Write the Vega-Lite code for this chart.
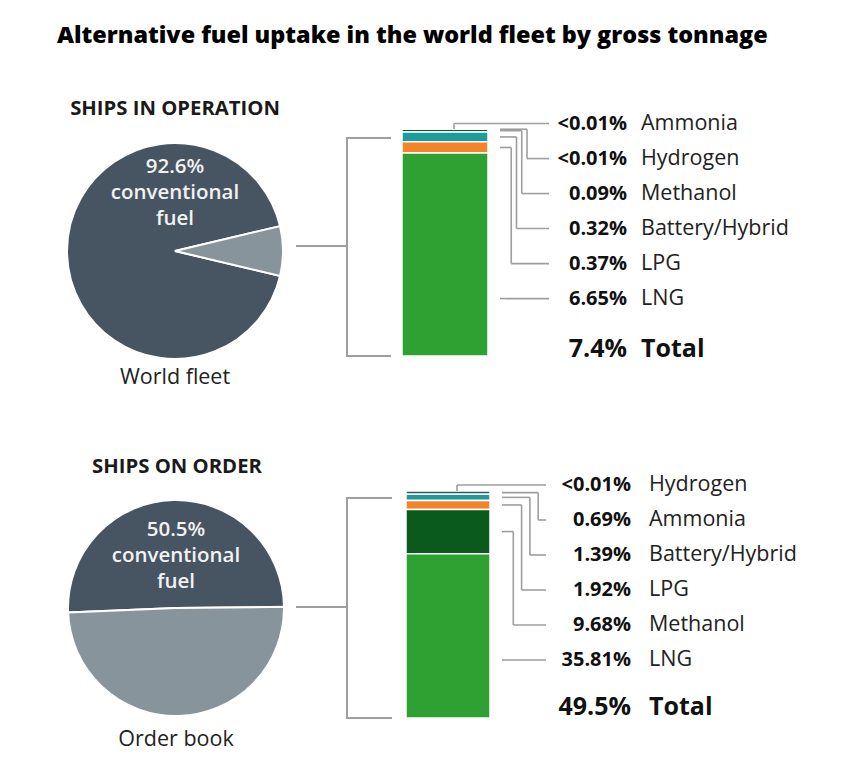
{
  "$schema": "https://vega.github.io/schema/vega-lite/v6.json",
  "background": "white",
  "padding": {"left": 0, "top": 23, "right": 0, "bottom": 0},
  "title": {"text": "Alternative fuel uptake in the world fleet by gross tonnage", "anchor": "start", "frame": "group", "dx": 57, "offset": 33, "font": "Open Sans", "fontSize": 23.4, "fontWeight": 800, "color": "#000000"},
  "config": {"axis": {"disable": true}, "legend": {"disable": true}, "view": {"stroke": null}, "text": {"font": "Open Sans"}},
  "datasets": {
    "fuels": [
      {"panel": "op", "fuel": "Ammonia", "pct": 0.005, "pct_label": "<0.01%", "rank": 5},
      {"panel": "op", "fuel": "Hydrogen", "pct": 0.005, "pct_label": "<0.01%", "rank": 4},
      {"panel": "op", "fuel": "Methanol", "pct": 0.09, "pct_label": "0.09%", "rank": 3},
      {"panel": "op", "fuel": "Battery/Hybrid", "pct": 0.32, "pct_label": "0.32%", "rank": 2},
      {"panel": "op", "fuel": "LPG", "pct": 0.37, "pct_label": "0.37%", "rank": 1},
      {"panel": "op", "fuel": "LNG", "pct": 6.65, "pct_label": "6.65%", "rank": 0},
      {"panel": "order", "fuel": "Hydrogen", "pct": 0.005, "pct_label": "<0.01%", "rank": 5},
      {"panel": "order", "fuel": "Ammonia", "pct": 0.69, "pct_label": "0.69%", "rank": 4},
      {"panel": "order", "fuel": "Battery/Hybrid", "pct": 1.39, "pct_label": "1.39%", "rank": 3},
      {"panel": "order", "fuel": "LPG", "pct": 1.92, "pct_label": "1.92%", "rank": 2},
      {"panel": "order", "fuel": "Methanol", "pct": 9.68, "pct_label": "9.68%", "rank": 1},
      {"panel": "order", "fuel": "LNG", "pct": 35.81, "pct_label": "35.81%", "rank": 0}
    ],
    "pies": [
      {"panel": "op", "section": "SHIPS IN OPERATION", "fleet": "World fleet", "part": "conventional", "share": 92.6, "label": "92.6% conventional fuel"},
      {"panel": "op", "section": "SHIPS IN OPERATION", "fleet": "World fleet", "part": "alternative", "share": 7.4, "label": "7.4%"},
      {"panel": "order", "section": "SHIPS ON ORDER", "fleet": "Order book", "part": "conventional", "share": 50.5, "label": "50.5% conventional fuel"},
      {"panel": "order", "section": "SHIPS ON ORDER", "fleet": "Order book", "part": "alternative", "share": 49.5, "label": "49.5%"}
    ]
  },
  "resolve": {"scale": {"theta": "independent"}},
  "spacing": 42,
  "vconcat": [
    {
      "width": 868, "height": 320,
      "layer": [
        {
          "data": {"name": "pies"},
          "transform": [{"filter": "datum.panel === 'op' && datum.part === 'conventional'"}],
          "mark": {"type": "text", "fontSize": 20.3, "fontWeight": 700, "color": "#1a1a1a", "align": "center", "baseline": "middle"},
          "encoding": {
            "x": {"datum": 175, "type": "quantitative", "scale": {"domain": [0, 868], "nice": false, "zero": false}},
            "y": {"datum": 1.088, "type": "quantitative", "scale": {"domain": [-0.1982, 1.2115], "nice": false, "zero": false}},
            "text": {"field": "section"}
          }
        },
        {
          "data": {"name": "pies"},
          "transform": [{"filter": "datum.panel === 'op'"}],
          "mark": {"type": "arc", "outerRadius": 108, "stroke": "white", "strokeWidth": 2},
          "encoding": {
            "x": {"datum": 175, "type": "quantitative"},
            "y": {"datum": 0.4626, "type": "quantitative"},
            "theta": {"field": "share", "type": "quantitative", "stack": true, "scale": {"range": [1.3386, 7.6218]}},
            "order": {"field": "part", "type": "ordinal"},
            "color": {"field": "part", "type": "nominal", "scale": {"domain": ["conventional", "alternative", "LNG", "Methanol", "LPG", "Battery/Hybrid", "Ammonia", "Hydrogen"], "range": ["#475563", "#88949c", "#2fa133", "#0b5a1d", "#f5832b", "#1b9c9e", "#2d5a5e", "#e6d7d7"]}}
          }
        },
        {
          "data": {"name": "pies"},
          "transform": [{"filter": "datum.panel === 'op' && datum.part === 'conventional'"}],
          "mark": {"type": "text", "fontSize": 20.5, "fontWeight": 600, "color": "#f2f2f2", "align": "center", "baseline": "middle", "lineBreak": " ", "lineHeight": 26},
          "encoding": {
            "x": {"datum": 175, "type": "quantitative"},
            "y": {"datum": 0.8326, "type": "quantitative"},
            "text": {"field": "label"}
          }
        },
        {
          "data": {"name": "pies"},
          "transform": [{"filter": "datum.panel === 'op' && datum.part === 'conventional'"}],
          "mark": {"type": "text", "fontSize": 21.5, "fontWeight": 400, "color": "#222222", "align": "center", "baseline": "middle"},
          "encoding": {
            "x": {"datum": 175, "type": "quantitative"},
            "y": {"datum": -0.097, "type": "quantitative"},
            "text": {"field": "fleet"}
          }
        },
        {
          "data": {"name": "pies"},
          "transform": [{"filter": "datum.panel === 'op' && datum.part === 'alternative'"}],
          "layer": [
            {"mark": {"type": "rule", "color": "#9e9e9e", "strokeWidth": 2}, "encoding": {"x": {"datum": 296, "type": "quantitative"}, "x2": {"datum": 347}, "y": {"datum": 0.4846, "type": "quantitative"}}},
            {"mark": {"type": "rule", "color": "#9e9e9e", "strokeWidth": 2}, "encoding": {"x": {"datum": 347, "type": "quantitative"}, "y": {"datum": 0, "type": "quantitative"}, "y2": {"datum": 0.96}}},
            {"mark": {"type": "rule", "color": "#9e9e9e", "strokeWidth": 2}, "encoding": {"x": {"datum": 346, "type": "quantitative"}, "x2": {"datum": 391}, "y": {"datum": 0.96, "type": "quantitative"}}},
            {"mark": {"type": "rule", "color": "#9e9e9e", "strokeWidth": 2}, "encoding": {"x": {"datum": 346, "type": "quantitative"}, "x2": {"datum": 391}, "y": {"datum": 0, "type": "quantitative"}}},
            {"mark": {"type": "text", "fontSize": 25, "fontWeight": 700, "color": "#111111", "align": "right", "baseline": "middle"}, "encoding": {"x": {"datum": 627, "type": "quantitative"}, "y": {"datum": 0.031, "type": "quantitative"}, "text": {"field": "label"}}},
            {"mark": {"type": "text", "fontSize": 25, "fontWeight": 700, "color": "#111111", "align": "left", "baseline": "middle"}, "encoding": {"x": {"datum": 641, "type": "quantitative"}, "y": {"datum": 0.031, "type": "quantitative"}, "text": {"value": "Total"}}}
          ]
        },
        {
          "data": {"name": "fuels"},
          "transform": [
            {"filter": "datum.panel === 'op'"},
            {"stack": "pct", "groupby": [], "sort": [{"field": "rank", "order": "ascending"}], "offset": "normalize", "as": ["y0", "y1"]},
            {"calculate": "0.253 + 0.1542 * datum.rank", "as": "slot"},
            {"calculate": "datum.slot >= datum.y0 && datum.slot <= datum.y1 ? datum.slot : (datum.y0 + datum.y1) / 2", "as": "stub"},
            {"calculate": "datum.rank === 5 ? 454 : 506 + 5.25 * datum.rank", "as": "ex"},
            {"calculate": "datum.rank === 5 ? 454 : 500", "as": "sx"}
          ],
          "layer": [
            {"mark": {"type": "rect", "stroke": "white", "strokeWidth": 1.5}, "encoding": {"x": {"datum": 402, "type": "quantitative"}, "x2": {"datum": 488}, "y": {"field": "y0", "type": "quantitative"}, "y2": {"field": "y1"}, "color": {"field": "fuel", "type": "nominal"}}},
            {"mark": {"type": "rule", "color": "#9e9e9e", "strokeWidth": 1.6}, "encoding": {"x": {"field": "sx", "type": "quantitative"}, "x2": {"field": "ex"}, "y": {"field": "stub", "type": "quantitative"}}},
            {"mark": {"type": "rule", "color": "#9e9e9e", "strokeWidth": 1.6}, "encoding": {"x": {"field": "ex", "type": "quantitative"}, "y": {"field": "stub", "type": "quantitative"}, "y2": {"field": "slot"}}},
            {"mark": {"type": "rule", "color": "#9e9e9e", "strokeWidth": 1.6}, "encoding": {"x": {"field": "ex", "type": "quantitative"}, "x2": {"datum": 549}, "y": {"field": "slot", "type": "quantitative"}}},
            {"mark": {"type": "text", "fontSize": 20, "fontWeight": 700, "color": "#111111", "align": "right", "baseline": "middle"}, "encoding": {"x": {"datum": 627, "type": "quantitative"}, "y": {"field": "slot", "type": "quantitative"}, "text": {"field": "pct_label"}}},
            {"mark": {"type": "text", "fontSize": 21.5, "fontWeight": 400, "color": "#222222", "align": "left", "baseline": "middle"}, "encoding": {"x": {"datum": 641, "type": "quantitative"}, "y": {"field": "slot", "type": "quantitative"}, "text": {"field": "fuel"}}}
          ]
        }
      ]
    },
    {
      "width": 868, "height": 320,
      "layer": [
        {
          "data": {"name": "pies"},
          "transform": [{"filter": "datum.panel === 'order' && datum.part === 'conventional'"}],
          "mark": {"type": "text", "fontSize": 20.3, "fontWeight": 700, "color": "#1a1a1a", "align": "center", "baseline": "middle"},
          "encoding": {
            "x": {"datum": 177, "type": "quantitative", "scale": {"domain": [0, 868], "nice": false, "zero": false}},
            "y": {"datum": 1.106, "type": "quantitative", "scale": {"domain": [-0.1982, 1.2115], "nice": false, "zero": false}},
            "text": {"field": "section"}
          }
        },
        {
          "data": {"name": "pies"},
          "transform": [{"filter": "datum.panel === 'order'"}],
          "mark": {"type": "arc", "outerRadius": 108, "stroke": "white", "strokeWidth": 2},
          "encoding": {
            "x": {"datum": 176, "type": "quantitative"},
            "y": {"datum": 0.4846, "type": "quantitative"},
            "theta": {"field": "share", "type": "quantitative", "stack": true, "scale": {"range": [1.56, 7.8432]}},
            "order": {"field": "part", "type": "ordinal"},
            "color": {"field": "part", "type": "nominal", "scale": {"domain": ["conventional", "alternative", "LNG", "Methanol", "LPG", "Battery/Hybrid", "Ammonia", "Hydrogen"], "range": ["#475563", "#88949c", "#2fa133", "#0b5a1d", "#f5832b", "#1b9c9e", "#2d5a5e", "#e6d7d7"]}}
          }
        },
        {
          "data": {"name": "pies"},
          "transform": [{"filter": "datum.panel === 'order' && datum.part === 'conventional'"}],
          "mark": {"type": "text", "fontSize": 20.5, "fontWeight": 600, "color": "#f2f2f2", "align": "center", "baseline": "middle", "lineBreak": " ", "lineHeight": 26},
          "encoding": {
            "x": {"datum": 176, "type": "quantitative"},
            "y": {"datum": 0.828, "type": "quantitative"},
            "text": {"field": "label"}
          }
        },
        {
          "data": {"name": "pies"},
          "transform": [{"filter": "datum.panel === 'order' && datum.part === 'conventional'"}],
          "mark": {"type": "text", "fontSize": 21.5, "fontWeight": 400, "color": "#222222", "align": "center", "baseline": "middle"},
          "encoding": {
            "x": {"datum": 176, "type": "quantitative"},
            "y": {"datum": -0.097, "type": "quantitative"},
            "text": {"field": "fleet"}
          }
        },
        {
          "data": {"name": "pies"},
          "transform": [{"filter": "datum.panel === 'order' && datum.part === 'alternative'"}],
          "layer": [
            {"mark": {"type": "rule", "color": "#9e9e9e", "strokeWidth": 2}, "encoding": {"x": {"datum": 296, "type": "quantitative"}, "x2": {"datum": 347}, "y": {"datum": 0.489, "type": "quantitative"}}},
            {"mark": {"type": "rule", "color": "#9e9e9e", "strokeWidth": 2}, "encoding": {"x": {"datum": 347, "type": "quantitative"}, "y": {"datum": 0, "type": "quantitative"}, "y2": {"datum": 0.969}}},
            {"mark": {"type": "rule", "color": "#9e9e9e", "strokeWidth": 2}, "encoding": {"x": {"datum": 346, "type": "quantitative"}, "x2": {"datum": 392}, "y": {"datum": 0.969, "type": "quantitative"}}},
            {"mark": {"type": "rule", "color": "#9e9e9e", "strokeWidth": 2}, "encoding": {"x": {"datum": 346, "type": "quantitative"}, "x2": {"datum": 392}, "y": {"datum": 0, "type": "quantitative"}}},
            {"mark": {"type": "text", "fontSize": 25, "fontWeight": 700, "color": "#111111", "align": "right", "baseline": "middle"}, "encoding": {"x": {"datum": 631, "type": "quantitative"}, "y": {"datum": 0.048, "type": "quantitative"}, "text": {"field": "label"}}},
            {"mark": {"type": "text", "fontSize": 25, "fontWeight": 700, "color": "#111111", "align": "left", "baseline": "middle"}, "encoding": {"x": {"datum": 649, "type": "quantitative"}, "y": {"datum": 0.048, "type": "quantitative"}, "text": {"value": "Total"}}}
          ]
        },
        {
          "data": {"name": "fuels"},
          "transform": [
            {"filter": "datum.panel === 'order'"},
            {"stack": "pct", "groupby": [], "sort": [{"field": "rank", "order": "ascending"}], "offset": "normalize", "as": ["y0", "y1"]},
            {"calculate": "0.2555 + 0.1542 * datum.rank", "as": "slot"},
            {"calculate": "datum.slot >= datum.y0 && datum.slot <= datum.y1 ? datum.slot : (datum.y0 + datum.y1) / 2", "as": "stub"},
            {"calculate": "datum.rank === 5 ? 457 : 505 + 8.3 * datum.rank", "as": "ex"},
            {"calculate": "datum.rank === 5 ? 457 : 502", "as": "sx"}
          ],
          "layer": [
            {"mark": {"type": "rect", "stroke": "white", "strokeWidth": 1.5}, "encoding": {"x": {"datum": 406, "type": "quantitative"}, "x2": {"datum": 490}, "y": {"field": "y0", "type": "quantitative"}, "y2": {"field": "y1"}, "color": {"field": "fuel", "type": "nominal"}}},
            {"mark": {"type": "rule", "color": "#9e9e9e", "strokeWidth": 1.6}, "encoding": {"x": {"field": "sx", "type": "quantitative"}, "x2": {"field": "ex"}, "y": {"field": "stub", "type": "quantitative"}}},
            {"mark": {"type": "rule", "color": "#9e9e9e", "strokeWidth": 1.6}, "encoding": {"x": {"field": "ex", "type": "quantitative"}, "y": {"field": "stub", "type": "quantitative"}, "y2": {"field": "slot"}}},
            {"mark": {"type": "rule", "color": "#9e9e9e", "strokeWidth": 1.6}, "encoding": {"x": {"field": "ex", "type": "quantitative"}, "x2": {"datum": 546}, "y": {"field": "slot", "type": "quantitative"}}},
            {"mark": {"type": "text", "fontSize": 20, "fontWeight": 700, "color": "#111111", "align": "right", "baseline": "middle"}, "encoding": {"x": {"datum": 631, "type": "quantitative"}, "y": {"field": "slot", "type": "quantitative"}, "text": {"field": "pct_label"}}},
            {"mark": {"type": "text", "fontSize": 21.5, "fontWeight": 400, "color": "#222222", "align": "left", "baseline": "middle"}, "encoding": {"x": {"datum": 649, "type": "quantitative"}, "y": {"field": "slot", "type": "quantitative"}, "text": {"field": "fuel"}}}
          ]
        }
      ]
    }
  ]
}
